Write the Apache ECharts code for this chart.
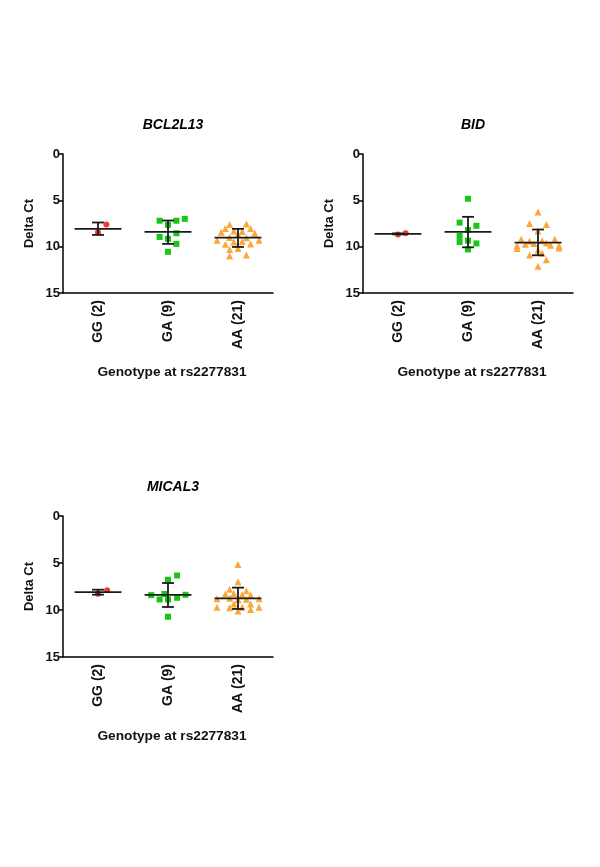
<!DOCTYPE html>
<html><head><meta charset="utf-8">
<script src="https://cdn.jsdelivr.net/npm/echarts@6/dist/echarts.min.js"></script>
<style>html,body{margin:0;padding:0;background:#fff}#c{width:600px;height:867px}</style>
</head><body><div id="c"></div>
<script>
// ---- data ----
const categories = ['GG (2)', 'GA (9)', 'AA (21)'];
const genes = ['BCL2L13', 'BID', 'MICAL3'];
const xAxisTitle = 'Genotype at rs2277831';
const yAxisTitle = 'Delta Ct';
const yTicks = [0, 5, 10, 15];

// points: [horizontal jitter (in category units), Delta Ct]
const bcl2l13_GG = [[0.12, 7.6], [0, 8.45]];
const bcl2l13_GA = [[-0.12, 7.2], [0.12, 7.2], [0.24, 7.0], [0, 7.65], [0.12, 8.55], [-0.12, 8.95], [0, 9.15], [0.12, 9.7], [0, 10.55]];
const bcl2l13_AA = [[-0.12, 7.6], [0.12, 7.55], [-0.18, 8.05], [-0.06, 8.3], [0.06, 8.35], [0.18, 8.05], [-0.24, 8.45], [0.24, 8.55], [0, 8.7], [-0.3, 9.3], [-0.12, 9.0], [0.12, 9.05], [0.3, 9.3], [-0.06, 9.5], [0.06, 9.45], [-0.18, 9.75], [0.18, 9.7], [-0.12, 10.3], [0, 10.2], [-0.12, 11.0], [0.12, 10.9]];
const bcl2l13_mean = [8.08, 8.40, 9.02];
const bcl2l13_low = [7.39, 7.18, 8.08];
const bcl2l13_high = [8.73, 9.70, 10.03];

const bid_GG = [[0, 8.68], [0.11, 8.55]];
const bid_GA = [[0, 4.83], [-0.12, 7.4], [0.12, 7.75], [0, 8.2], [-0.12, 8.85], [-0.12, 9.5], [0, 9.35], [0.12, 9.65], [0, 10.3]];
const bid_AA = [[0, 6.25], [-0.12, 7.5], [0.12, 7.6], [0, 8.3], [-0.24, 9.2], [0.24, 9.2], [-0.12, 9.4], [0.06, 9.35], [-0.3, 9.9], [-0.18, 9.75], [-0.06, 9.65], [0.12, 9.6], [0.18, 9.85], [0.3, 9.9], [-0.3, 10.2], [0.3, 10.15], [0, 10.35], [-0.12, 10.9], [0.06, 10.7], [0.12, 11.4], [0, 12.1]];
const bid_mean = [8.62, 8.40, 9.56];
const bid_low = [8.57, 6.78, 8.15];
const bid_high = [8.67, 10.07, 10.93];

const mical3_GG = [[0.13, 7.91], [0, 8.26]];
const mical3_GA = [[0.13, 6.33], [0, 6.78], [-0.24, 8.42], [-0.05, 8.3], [0.25, 8.38], [-0.12, 8.88], [0, 8.88], [0.13, 8.7], [0, 10.72]];
const mical3_AA = [[0, 5.15], [0, 7.0], [-0.12, 7.8], [0.12, 7.95], [-0.18, 8.3], [-0.06, 8.25], [0.06, 8.35], [0.18, 8.4], [-0.3, 8.8], [-0.12, 8.75], [0, 8.9], [0.12, 8.85], [0.3, 8.8], [-0.06, 9.35], [0.18, 9.35], [-0.3, 9.7], [-0.12, 9.75], [0.06, 9.7], [0.3, 9.7], [0.18, 9.95], [0, 10.1]];
const mical3_mean = [8.09, 8.40, 8.76];
const mical3_low = [7.84, 7.13, 7.62];
const mical3_high = [8.37, 9.68, 9.89];

// ---- chart building ----
const FONT = "'Liberation Sans', Arial, sans-serif";
const panels = [
  {gene: genes[0], pts: [bcl2l13_GG, bcl2l13_GA, bcl2l13_AA], mean: bcl2l13_mean, low: bcl2l13_low, high: bcl2l13_high, left: 63, top: 154, h: 139},
  {gene: genes[1], pts: [bid_GG, bid_GA, bid_AA], mean: bid_mean, low: bid_low, high: bid_high, left: 363, top: 154, h: 139},
  {gene: genes[2], pts: [mical3_GG, mical3_GA, mical3_AA], mean: mical3_mean, low: mical3_low, high: mical3_high, left: 63, top: 516, h: 141}
];
const groupStyle = [
  {symbol: 'circle', size: 6, color: '#f23a2f'},
  {symbol: 'rect', size: 6, color: '#17c617'},
  {symbol: 'triangle', size: 7, color: '#fba73a'}
];
const W = 210;

const grid = [], xAxis = [], yAxis = [], series = [], title = [];
panels.forEach((p, k) => {
  grid.push({left: p.left, top: p.top, width: W, height: p.h, containLabel: false});
  title.push({
    text: p.gene, left: p.left + W / 2, top: p.top - 41, textAlign: 'center',
    textStyle: {fontFamily: FONT, fontSize: 14, fontWeight: 'bold', fontStyle: 'italic', color: '#000'}
  });
  xAxis.push({
    type: 'category', gridIndex: k, data: categories, boundaryGap: true, position: 'bottom',
    axisLine: {onZero: false, lineStyle: {color: '#000', width: 1.5}},
    axisTick: {alignWithLabel: true, length: 5, lineStyle: {color: '#000', width: 1.5}},
    axisLabel: {rotate: 90, margin: 7, fontFamily: FONT, fontSize: 14, fontWeight: 'bold', color: '#111'},
    name: xAxisTitle, nameLocation: 'middle', nameGap: 72,
    nameTextStyle: {fontFamily: FONT, fontSize: 13.7, fontWeight: 'bold', color: '#111', padding: [0, 0, 0, 8]},
    splitLine: {show: false}
  });
  xAxis.push({type: 'value', gridIndex: k, min: -0.5, max: 2.5, show: false, axisLine: {onZero: false}, splitLine: {show: false}});
  yAxis.push({
    type: 'value', gridIndex: k, inverse: true, min: yTicks[0], max: yTicks[yTicks.length - 1], interval: 5, position: 'left',
    axisLine: {show: true, onZero: false, lineStyle: {color: '#000', width: 1.5}},
    axisTick: {show: true, length: 5, lineStyle: {color: '#000', width: 1.5}},
    axisLabel: {margin: 3, fontFamily: FONT, fontSize: 13, fontWeight: 'bold', color: '#111'},
    splitLine: {show: false},
    name: yAxisTitle, nameLocation: 'middle', nameRotate: 90, nameGap: 27,
    nameTextStyle: {fontFamily: FONT, fontSize: 13, fontWeight: 'bold', color: '#111'}
  });
  p.pts.forEach((arr, gi) => {
    series.push({
      type: 'scatter', xAxisIndex: 2 * k + 1, yAxisIndex: k,
      symbol: groupStyle[gi].symbol, symbolSize: groupStyle[gi].size,
      itemStyle: {color: groupStyle[gi].color, opacity: 1},
      data: arr.map(d => [gi + d[0], d[1]]), z: 2, silent: true
    });
  });
  series.push({
    type: 'custom', xAxisIndex: 2 * k + 1, yAxisIndex: k, z: 5, silent: true, clip: false,
    data: categories.map((c, i) => [i, p.mean[i], p.low[i], p.high[i]]),
    renderItem: function (params, api) {
      const i = api.value(0), m = api.value(1), lo = api.value(2), hi = api.value(3);
      const a = api.coord([i - 0.335, m]), b = api.coord([i + 0.335, m]);
      const t = api.coord([i, lo]), u = api.coord([i, hi]);
      const cw = 0.085;
      const t1 = api.coord([i - cw, lo]), t2 = api.coord([i + cw, lo]);
      const u1 = api.coord([i - cw, hi]), u2 = api.coord([i + cw, hi]);
      const st = {stroke: '#1a1a1a', lineWidth: 1.8};
      return {type: 'group', children: [
        {type: 'line', shape: {x1: a[0], y1: a[1], x2: b[0], y2: b[1]}, style: st},
        {type: 'line', shape: {x1: t[0], y1: t[1], x2: u[0], y2: u[1]}, style: st},
        {type: 'line', shape: {x1: t1[0], y1: t1[1], x2: t2[0], y2: t2[1]}, style: st},
        {type: 'line', shape: {x1: u1[0], y1: u1[1], x2: u2[0], y2: u2[1]}, style: st}
      ]};
    }
  });
});

const chart = echarts.init(document.getElementById('c'), null, {renderer: 'canvas'});
chart.setOption({backgroundColor: '#fff', animation: false, title, grid, xAxis, yAxis, series});
</script></body></html>
